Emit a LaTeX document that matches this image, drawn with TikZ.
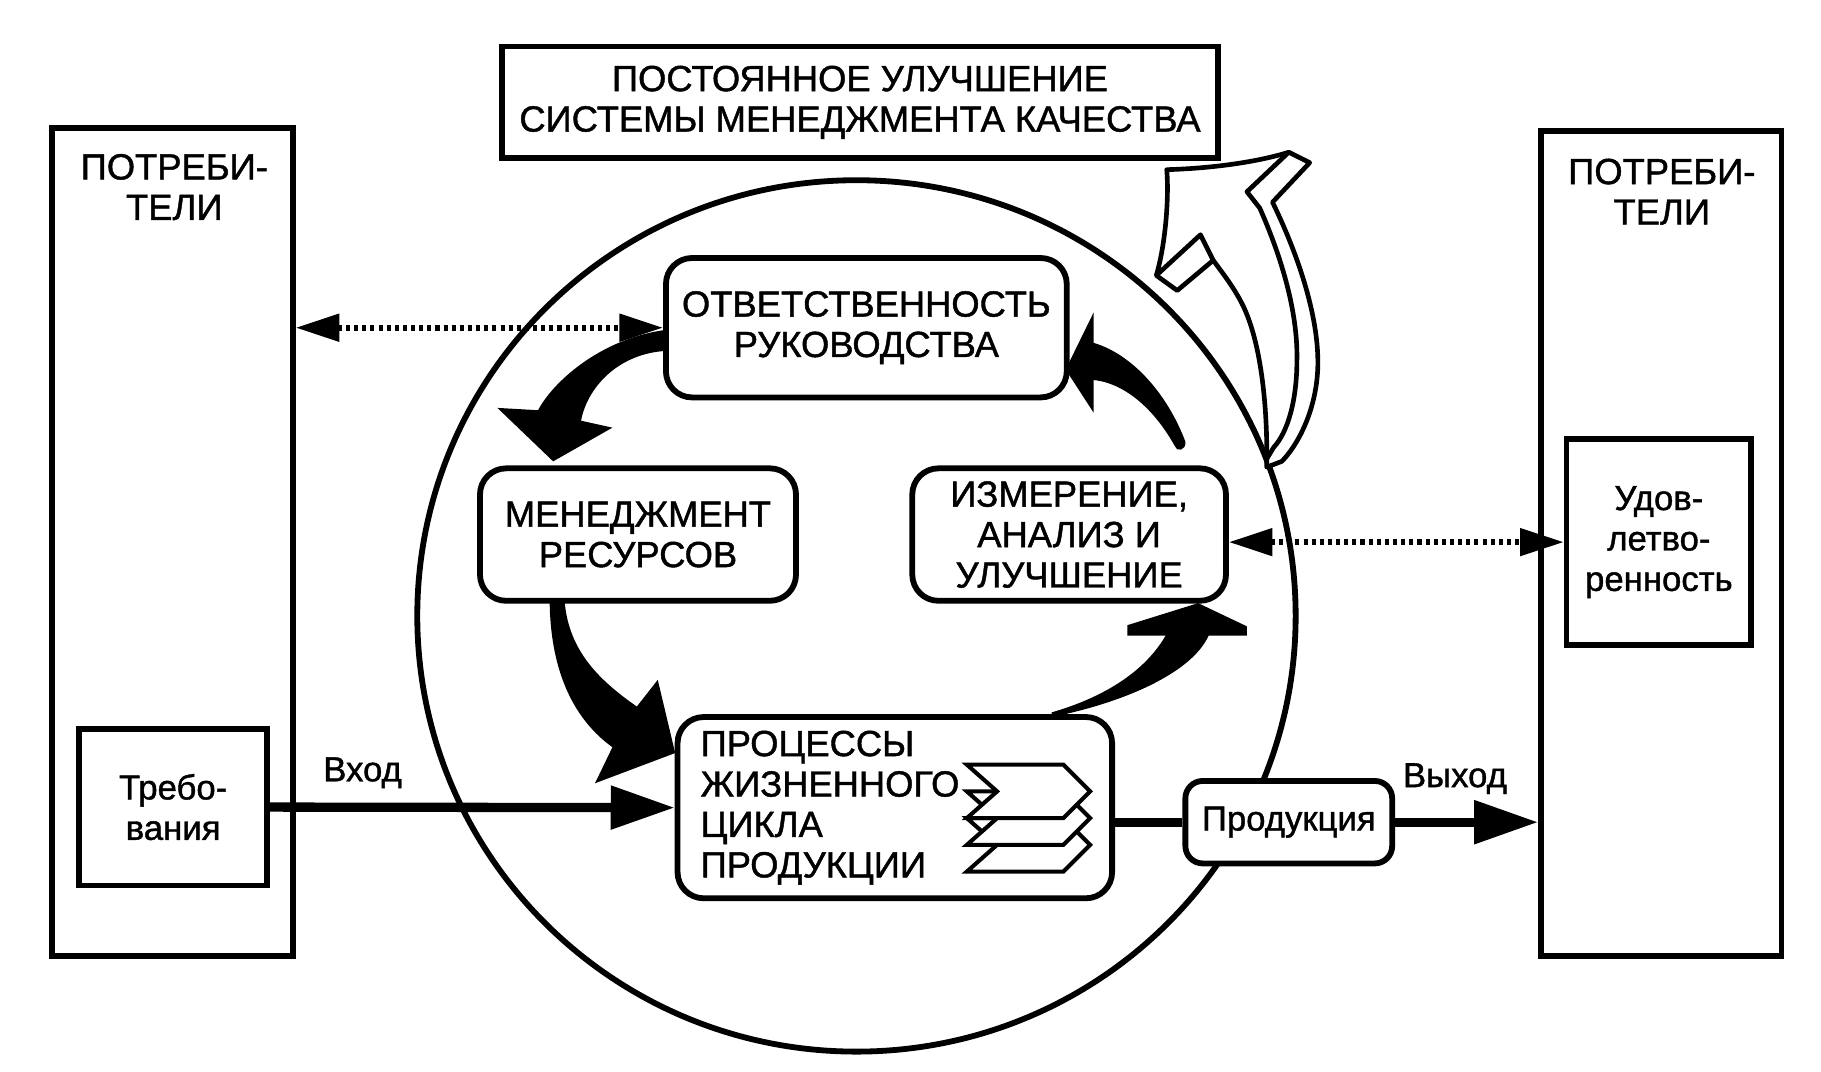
\documentclass[tikz,border=0pt]{standalone}
\usepackage{fontspec}
\setmainfont[FakeBold=1.2]{Liberation Sans}
\usetikzlibrary{arrows.meta,positioning,shapes.geometric,calc}

\tikzset{
  box/.style={draw, line width=0.1cm, fill=white, inner sep=0pt},
  rbox/.style={box, rounded corners=0.45cm},
  caption/.style={align=center, font=\fontsize{17.8}{19.8}\selectfont, inner sep=0pt},
  lcaption/.style={caption, font=\fontsize{17}{19.8}\selectfont},
  flow/.style={line width=0.16cm, -{Triangle[length=1.1cm,width=0.72cm]}},
  dots/.style={line width=0.1cm, dash pattern=on 0.07cm off 0.07cm,
    {Triangle[length=0.75cm,width=0.46cm]}-{Triangle[length=0.75cm,width=0.46cm]}},
  swoosh/.style={fill=black},
  hollow/.style={draw, fill=white, line width=0.08cm, line join=round},
  chev/.style={draw, fill=white, line width=0.07cm}
}

\begin{document}
\begin{tikzpicture}[x=0.02cm, y=-0.02cm]
   \useasboundingbox (0,0) rectangle (1567,922);

   % customers on both sides
   \node[box, minimum width=4.14cm, minimum height=14.26cm] (consL) at (148.5,466.5) {};
   \node[box, minimum width=4.14cm, minimum height=14.2cm] (consR) at (1429.5,468) {};
   \node[caption] (consLtxt) at (150,161) {ПОТРЕБИ-\\ТЕЛИ};
   \node[caption] (consRtxt) at (1430,165) {ПОТРЕБИ-\\ТЕЛИ};
   \node[box, lcaption, minimum width=3.24cm, minimum height=2.7cm] (req) at (149,694.5) {Требо-\\вания};
   \node[box, lcaption, minimum width=3.18cm, minimum height=3.54cm] (sat) at (1427.5,466.5) {Удов-\\летво-\\ренность};

   \node[box, caption, minimum width=12.32cm, minimum height=1.92cm] (title) at (740,88)
     {ПОСТОЯННОЕ УЛУЧШЕНИЕ\\СИСТЕМЫ МЕНЕДЖМЕНТА КАЧЕСТВА};

   \node[draw, ellipse, line width=0.1cm, minimum width=15.12cm, minimum height=15cm] (loop) at (737,530) {};

   % black arrows of the cycle
   \fill[swoosh] (572,284) .. controls (515,292) and (475,330) .. (463,353) -- (428,351) -- (476,397)
     -- (527,368) -- (500,362) .. controls (505,335) and (530,305) .. (572,302) -- cycle;
   \fill[swoosh] (473,519) .. controls (474,580) and (495,620) .. (527,643) -- (512,674) -- (581,648)
     -- (566,585) -- (548,608) .. controls (515,585) and (490,560) .. (486,519) -- cycle;
   \fill[swoosh] (905,617) .. controls (965,605) and (1025,580) .. (1040,547) -- (1073,547) -- (1073,539)
     -- (1031,519) -- (970,538) -- (970,547) -- (1003,547) .. controls (985,578) and (950,600) .. (905,613) -- cycle;
   \fill[swoosh] (941,295) .. controls (975,305) and (1005,340) .. (1020,380) .. controls (1021,388) and (1012,389) .. (1011,384)
     .. controls (995,355) and (970,330) .. (941,327) -- (941,355) -- (917,318) -- (941,269) -- cycle;

   % hollow improvement arrow
   \draw[hollow] (1004,146) .. controls (1040,145) and (1080,140) .. (1109,131) -- (1127,140) -- (1095,174)
     .. controls (1115,215) and (1135,270) .. (1134,315) .. controls (1133,355) and (1115,385) .. (1103,397)
     -- (1090,402) .. controls (1091,350) and (1085,290) .. (1067,258) .. controls (1060,245) and (1052,235) .. (1044,224)
     -- (1013,250) -- (995,237) .. controls (1003,210) and (1006,170) .. (1004,146) -- cycle;
   \draw[hollow, fill=none] (995,237) -- (1033,202) -- (1044,224);
   \draw[hollow, fill=none] (1109,131) -- (1073,165) -- (1084,179) .. controls (1100,215) and (1117,265) .. (1116,310)
     .. controls (1116,345) and (1108,372) .. (1096,385) -- (1090,395);

   % processes
   \node[rbox, caption, minimum width=6.9cm, minimum height=2.4cm] (resp) at (745.5,282) {ОТВЕТСТВЕННОСТЬ\\РУКОВОДСТВА};
   \node[rbox, caption, minimum width=5.44cm, minimum height=2.28cm] (res) at (549,460) {МЕНЕДЖМЕНТ\\РЕСУРСОВ};
   \node[rbox, caption, minimum width=5.4cm, minimum height=2.28cm] (meas) at (920,460) {ИЗМЕРЕНИЕ,\\АНАЛИЗ И\\УЛУЧШЕНИЕ};
   \node[rbox, minimum width=7.48cm, minimum height=3.12cm] (proc) at (770,695) {};
   \node[caption, align=left, anchor=west] (procTxt) at ([xshift=0.44cm]proc.west) {ПРОЦЕССЫ\\ЖИЗНЕННОГО\\ЦИКЛА\\ПРОДУКЦИИ};
   \foreach \dy in {46,23,0}
     \draw[chev] (832,{658+\dy}) -- ++(83,0) -- ++(23,23) -- ++(-23,23) -- ++(-83,0) -- ++(26,-23) -- cycle;
   \node[rbox, lcaption, rounded corners=0.3cm, minimum width=3.56cm, minimum height=1.42cm] (prod) at (1109,707.5) {Продукция};

   % flows
   \draw[flow] (req.east) -- (proc.west);
   \draw[line width=0.16cm] (prod.west -| proc.east) -- (prod.west);
   \draw[flow] (prod.east) -- (prod.east -| consR.west);
   \node[lcaption] (inLbl) at (312,665) {Вход};
   \node[lcaption] (outLbl) at (1252,670) {Выход};
   \draw[dots] (resp.west -| consL.east) -- (resp.west);
   \draw[dots] (sat.west -| meas.east) -- (sat.west);
\end{tikzpicture}
\end{document}
